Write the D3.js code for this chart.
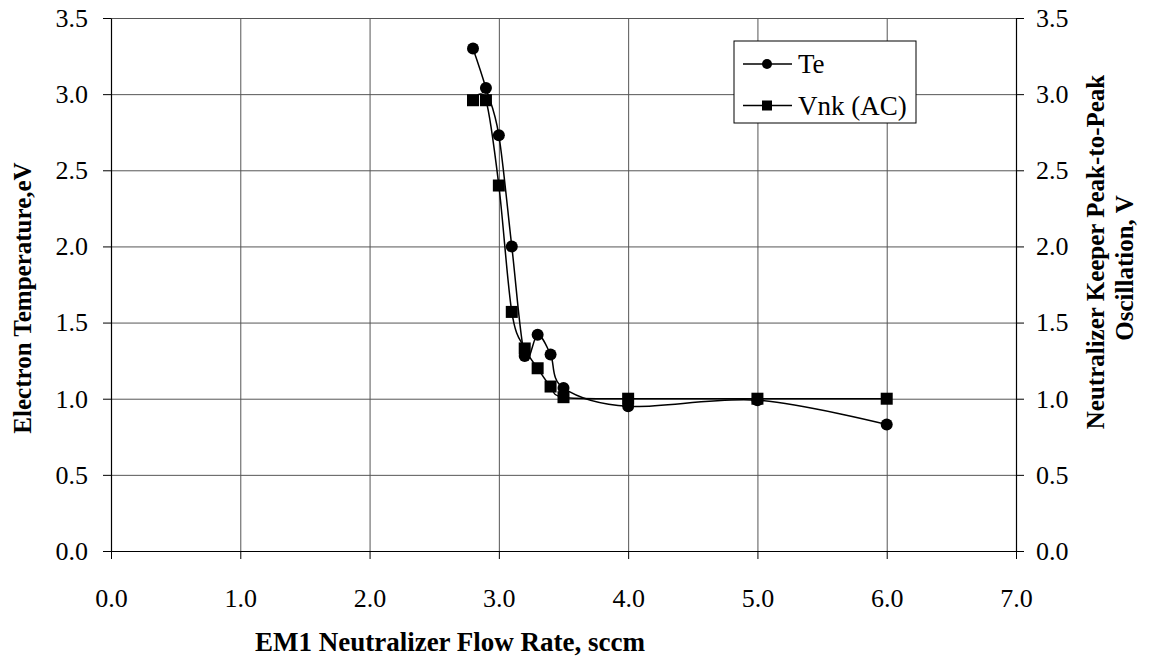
<!DOCTYPE html>
<html>
<head>
<meta charset="utf-8">
<script src="https://cdn.jsdelivr.net/npm/d3@7"></script>
<style>
  body { margin: 0; background: #fff; }
  .grid line { stroke: #555; stroke-width: 1; }
  .grid path { display: none; }
</style>
</head>
<body>
<svg id="chart" width="1154" height="658"></svg>
<script>
'use strict';

// flow rate, sccm
var flow = [2.8, 2.9, 3.0, 3.1, 3.2, 3.3, 3.4, 3.5, 4.0, 5.0, 6.0];
// electron temperature, eV
var te   = [3.30, 3.04, 2.73, 2.00, 1.28, 1.42, 1.29, 1.07, 0.95, 0.99, 0.83];
// keeper peak-to-peak oscillation, V
var vnk  = [2.96, 2.96, 2.40, 1.57, 1.33, 1.20, 1.08, 1.01, 1.00, 1.00, 1.00];
var xTicks = [0, 1, 2, 3, 4, 5, 6, 7];
var yTicks = [0, 0.5, 1, 1.5, 2, 2.5, 3, 3.5];

var serif = "'Times New Roman', 'Liberation Serif', serif";

var svg = d3.select("#chart"),
    margin = {top: 18, right: 138, bottom: 107, left: 111},
    width  = 1154 - margin.left - margin.right,
    height = 658 - margin.top - margin.bottom;

var x  = d3.scaleLinear().domain([0, 7]).range([0, width]),
    yL = d3.scaleLinear().domain([0, 3.5]).range([height, 0]),
    yR = d3.scaleLinear().domain([0, 3.5]).range([height, 0]);

var g = svg.append("g")
    .attr("transform", "translate(" + margin.left + "," + margin.top + ")");

// gridlines
g.append("g")
    .attr("class", "grid")
    .call(d3.axisLeft(yL).tickValues(yTicks).tickSize(-width).tickFormat(""));
g.append("g")
    .attr("class", "grid")
    .attr("transform", "translate(0," + height + ")")
    .call(d3.axisBottom(x).tickValues(xTicks).tickSize(-height).tickFormat(""));

// axes
var fmt = d3.format(".1f");
function styleAxis(sel) {
  sel.attr("font-size", null).attr("font-family", null);
  sel.selectAll("path, line").attr("stroke", "#000");
  sel.select(".domain").attr("stroke-width", 1.2);
  sel.selectAll("text")
      .style("font-family", serif)
      .style("font-size", "26px")
      .attr("fill", "#000");
}
g.append("g")
    .attr("transform", "translate(0," + height + ")")
    .call(d3.axisBottom(x).tickValues(xTicks).tickFormat(fmt).tickSize(8).tickPadding(30).tickSizeOuter(0))
    .call(styleAxis);
g.append("g")
    .call(d3.axisLeft(yL).tickValues(yTicks).tickFormat(fmt).tickSize(8).tickPadding(15).tickSizeOuter(0))
    .call(styleAxis);
g.append("g")
    .attr("transform", "translate(" + width + ",0)")
    .call(d3.axisRight(yR).tickValues(yTicks).tickFormat(fmt).tickSize(8).tickPadding(12).tickSizeOuter(0))
    .call(styleAxis);

// axis titles
function title(sel, size) {
  sel.style("font-family", serif)
     .style("font-size", size + "px")
     .style("font-weight", "bold")
     .attr("text-anchor", "middle")
     .attr("fill", "#000");
}
svg.append("text")
    .attr("x", 450).attr("y", 651)
    .call(title, 27)
    .text("EM1 Neutralizer Flow Rate, sccm");
svg.append("text")
    .attr("transform", "translate(31,298) rotate(-90)")
    .call(title, 25)
    .text("Electron Temperature,eV");
svg.append("text")
    .attr("transform", "translate(1104,252) rotate(-90)")
    .call(title, 25)
    .text("Neutralizer Keeper Peak-to-Peak");
svg.append("text")
    .attr("transform", "translate(1133,268) rotate(-90)")
    .call(title, 25)
    .text("Oscillation, V");

// series
var pts = function(vals) { return flow.map(function(f, i) { return [f, vals[i]]; }); };
var lineL = d3.line()
    .x(function(d) { return x(d[0]); })
    .y(function(d) { return yL(d[1]); })
    .curve(d3.curveCardinal.tension(0));
var lineR = d3.line()
    .x(function(d) { return x(d[0]); })
    .y(function(d) { return yR(d[1]); })
    .curve(d3.curveCardinal.tension(0));

g.append("path")
    .attr("d", lineR(pts(vnk)))
    .attr("fill", "none").attr("stroke", "#000").attr("stroke-width", 1.5);
g.append("path")
    .attr("d", lineL(pts(te)))
    .attr("fill", "none").attr("stroke", "#000").attr("stroke-width", 1.5);

g.selectAll(".sq").data(pts(vnk)).enter().append("rect")
    .attr("class", "sq")
    .attr("x", function(d) { return x(d[0]) - 6; })
    .attr("y", function(d) { return yR(d[1]) - 6; })
    .attr("width", 12).attr("height", 12)
    .attr("fill", "#000");
g.selectAll(".dot").data(pts(te)).enter().append("circle")
    .attr("class", "dot")
    .attr("cx", function(d) { return x(d[0]); })
    .attr("cy", function(d) { return yL(d[1]); })
    .attr("r", 6)
    .attr("fill", "#000");

// legend
var lg = svg.append("g").attr("transform", "translate(734,41)");
lg.append("rect")
    .attr("width", 182).attr("height", 82)
    .attr("fill", "#fff").attr("stroke", "#000").attr("stroke-width", 1);
var items = [{name: "Te", shape: "circle"}, {name: "Vnk (AC)", shape: "square"}];
items.forEach(function(d, i) {
  var row = lg.append("g").attr("transform", "translate(0," + (23 + i * 41.5) + ")");
  row.append("line")
      .attr("x1", 9).attr("x2", 58)
      .attr("stroke", "#000").attr("stroke-width", 1.5);
  if (d.shape === "circle") {
    row.append("circle").attr("cx", 33).attr("r", 5).attr("fill", "#000");
  } else {
    row.append("rect").attr("x", 28).attr("y", -5).attr("width", 10).attr("height", 10).attr("fill", "#000");
  }
  row.append("text")
      .attr("x", 64).attr("dy", "0.35em")
      .style("font-family", serif)
      .style("font-size", "27px")
      .attr("fill", "#000")
      .text(d.name);
});
</script>
</body>
</html>
